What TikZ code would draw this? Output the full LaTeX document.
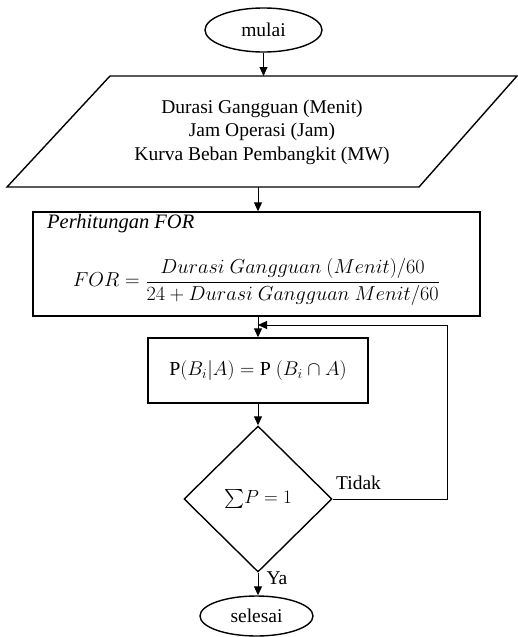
\documentclass[tikz,border=0pt]{standalone}
\usepackage{amsmath}
\usepackage{graphicx}
\usepackage{fontspec}
\setmainfont{Liberation Serif}
\usetikzlibrary{shapes.geometric,arrows.meta}
\begin{document}
\begin{tikzpicture}[x=1pt,y=-1pt,
  shapeline/.style={draw=black,line width=1.4pt},
  term/.style={shapeline,ellipse,inner sep=0pt},
  procbox/.style={shapeline,rectangle,inner sep=0pt},
  decis/.style={shapeline,diamond,inner sep=0pt},
  conn/.style={draw=black,line width=0.9pt,-{Triangle[length=9pt,width=8pt]}},
  txt/.style={font=\fontsize{19.5}{23.5}\selectfont,inner sep=0pt},
  mathtxt/.style={font=\fontsize{17.28}{21}\selectfont}
]
\useasboundingbox (0,0) rectangle (518,637);
% terminals
\node[term,minimum width=117pt,minimum height=44pt,txt] (start) at (263.5,30) {mulai};
% parallelogram
\coordinate (pa) at (110,76);
\coordinate (pb) at (517,76);
\coordinate (pc) at (419,187);
\coordinate (pd) at (7,187);
\draw[shapeline,line join=miter] (pa) -- (pb) -- (pc) -- (pd) -- cycle;
\node[txt,align=center] (inp) at (262,132) {Durasi Gangguan (Menit)\\Jam Operasi (Jam)\\Kurva Beban Pembangkit (MW)};
\coordinate (inTop) at (263.5,76);
\coordinate (inBot) at (258,187);
% FOR box
\node[procbox,minimum width=447pt,minimum height=104pt] (for) at (256.5,264) {};
\node[txt,anchor=west,font=\fontsize{20.5}{22}\selectfont\itshape] (fortitle) at (47,224) {Perhitungan FOR};
\node[inner sep=0pt,mathtxt] (foreq) at (256.5,282)
  {\scalebox{1.17}{$FOR=\dfrac{Durasi\ Gangguan\ (Menit)/60}{24+Durasi\ Gangguan\ Menit/60}$}};
% P box
\node[procbox,minimum width=220pt,minimum height=65pt,mathtxt] (pb1) at (258,370.5)
  {\scalebox{1.15}{$\mathrm{P}(B_i|A)=\mathrm{P}\ (B_i\cap A)$}};
% decision
\node[decis,minimum width=148pt,minimum height=146pt,mathtxt] (dec) at (258,499)
  {\scalebox{1.1}{$\sum\!P=1$}};
\node[term,minimum width=113pt,minimum height=40pt,txt] (stop) at (256.5,616) {selesai};
% connectors
\draw[conn] (start.south) -- (inTop);
\draw[conn] (inBot) -- (inBot |- for.north);
\draw[conn] (pb1.north |- for.south) -- (pb1.north);
\draw[conn] (pb1.south) -- (dec.north);
\draw[conn] (dec.south) -- (dec.south |- stop.north);
\coordinate (loopR) at (447,499);
\coordinate (loopIn) at (258,325);
\draw[conn] (dec.east) -- (loopR) |- (loopIn);
\node[txt] (tidak) at (358.5,483) {Tidak};
\node[txt] (ya) at (277,578) {Ya};
\end{tikzpicture}
\end{document}
